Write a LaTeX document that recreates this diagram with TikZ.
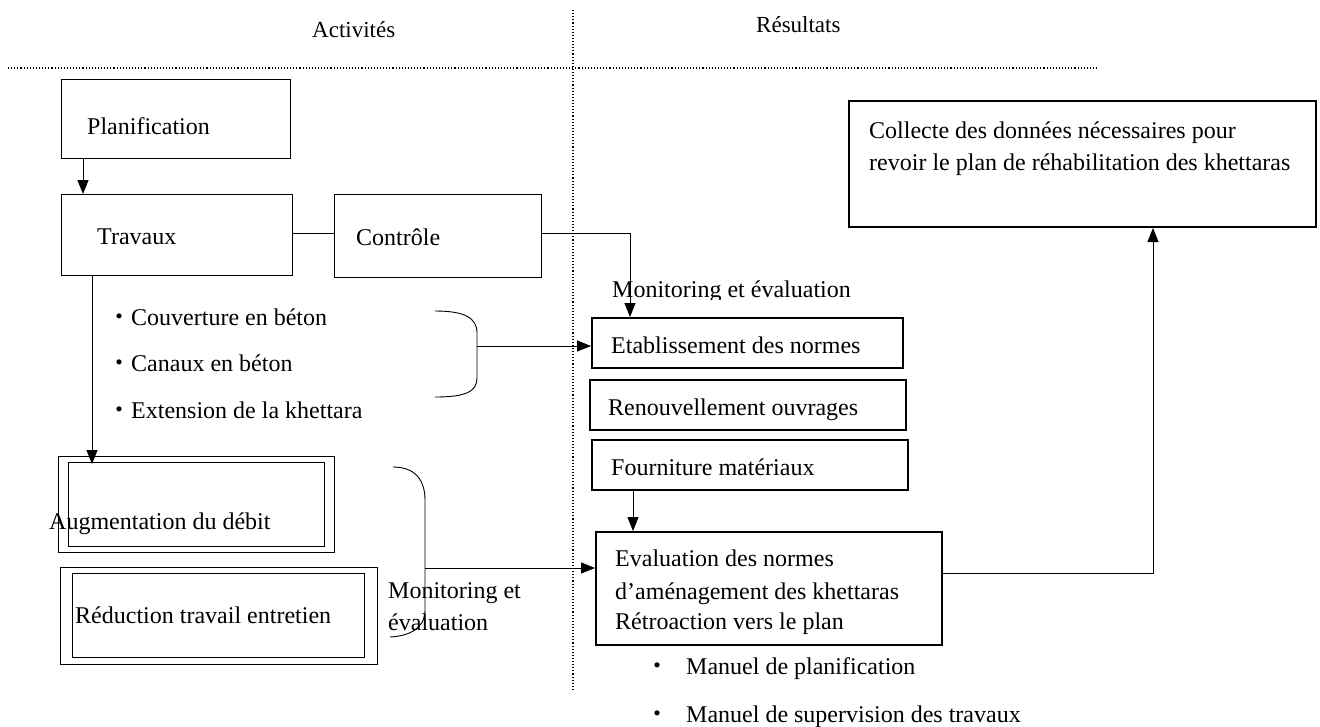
\documentclass[tikz,border=0pt]{standalone}
\usepackage{fontspec}
\setmainfont{Liberation Serif}
\newfontfamily\cjkdot{Noto Sans CJK JP}
\usetikzlibrary{arrows.meta}
\newcommand{\kdot}{{\cjkdot ・}}
\begin{document}
\begin{tikzpicture}[x=1pt,y=-1pt,
  box/.style={draw, line width=0.9pt, rectangle, inner sep=0pt, anchor=north west},
  boldbox/.style={box, line width=1.7pt},
  txt/.style={anchor=base west, inner sep=0pt, font=\fontsize{24}{29}\selectfont},
  head/.style={anchor=base west, inner sep=0pt, font=\fontsize{23}{27}\selectfont},
  link/.style={line width=0.9pt},
  arr/.style={link, -{Triangle[length=14pt,width=11pt]}},
  sepline/.style={line width=1.1pt, dotted}]
\useasboundingbox[fill=white] (0,0) rectangle (1320,726);

% column headings and separators
\node[head] (hact) at (312,37) {Activités};
\node[head] (hres) at (756,32) {Résultats};
\coordinate (hl) at (8,68);
\coordinate (hr) at (1098,68);
\coordinate (vt) at (573,10);
\coordinate (vb) at (573,690);
\draw[sepline] (hl) -- (hr);
\draw[sepline] (vt) -- (vb);

% activity boxes
\node[box, minimum width=229pt, minimum height=79pt] (plan) at (61,79) {};
\node[txt] (tplan) at (87,134) {Planification};
\node[box, minimum width=231pt, minimum height=81pt] (trav) at (61,194) {};
\node[txt] (ttrav) at (97,244) {Travaux};
\node[box, minimum width=207pt, minimum height=83pt] (ctrl) at (334,194) {};
\node[txt] (tctrl) at (356,245) {Contrôle};

% double-framed outcome boxes
\node[box, minimum width=276pt, minimum height=96pt] (aug) at (58,456) {};
\node[box, minimum width=256pt, minimum height=84pt] (augi) at (68,462) {};
\node[txt] (taug) at (49,529) {Augmentation du débit};
\node[box, minimum width=317pt, minimum height=97pt] (red) at (60,567) {};
\node[box, minimum width=292pt, minimum height=84pt] (redi) at (72,573) {};
\node[txt] (tred) at (75,623) {Réduction travail entretien};

% works list
\node[txt] (b1) at (107,325) {\kdot Couverture en béton};
\node[txt] (b2) at (107,371) {\kdot Canaux en béton};
\node[txt] (b3) at (107,418) {\kdot Extension de la khettara};

% result boxes
\node[boldbox, minimum width=311pt, minimum height=50pt] (etab) at (591,317) {};
\node[txt] (tetab) at (611,353) {Etablissement des normes};
\node[boldbox, minimum width=316pt, minimum height=50pt] (ren) at (589,379) {};
\node[txt] (tren) at (608,415) {Renouvellement ouvrages};
\node[boldbox, minimum width=316pt, minimum height=50pt] (four) at (591,439) {};
\node[txt] (tfour) at (611,475) {Fourniture matériaux};
\node[boldbox, minimum width=346pt, minimum height=113pt] (eval) at (595,531) {};
\node[txt] (tev1) at (615,566) {Evaluation des normes};
\node[txt] (tev2) at (615,599) {d’aménagement des khettaras};
\node[txt] (tev3) at (615,629) {Rétroaction vers le plan};
\node[boldbox, line width=2pt, minimum width=467pt, minimum height=126pt] (coll) at (848,100) {};
\node[txt] (tco1) at (869,138) {Collecte des données nécessaires pour};
\node[txt] (tco2) at (869,170) {revoir le plan de réhabilitation des khettaras};

% manuals
\node[txt] (m1) at (645,674) {\kdot\hspace{17pt}Manuel de planification};
\node[txt] (m2) at (645,722) {\kdot\hspace{17pt}Manuel de supervision des travaux};

% monitoring labels
\begin{scope}
  \clip (590,270) rectangle (900,299);
  \node[txt] (mon1) at (612,297) {Monitoring et évaluation};
\end{scope}
\node[txt] (mon2) at (388,598) {Monitoring et};
\node[txt] (mon3) at (388,630) {évaluation};

% connectors
\draw[arr] ([xshift=22pt]plan.south west) -- ([xshift=22pt]trav.north west);
\coordinate (tc) at (0,233);
\draw[link] (trav.east |- tc) -- (ctrl.west |- tc);
\coordinate (cm) at (630,233);
\draw[arr] (ctrl.east |- cm) -- (cm) -- (cm |- etab.north);
\coordinate (ta) at (92,0);
\draw[arr] (ta |- trav.south) -- ([yshift=-8pt]ta |- aug.north);

% braces grouping the works and the outcomes
\coordinate (k1t) at (435,311);
\coordinate (k1b) at (435,397);
\coordinate (k1m) at (477,346);
\draw[link] (k1t) .. controls (465,311) and (477,318) .. (477,333)
  -- (477,378) .. controls (477,392) and (465,397) .. (k1b);
\draw[arr] (k1m) -- (etab.west |- k1m);
\coordinate (k2t) at (393,467);
\coordinate (k2b) at (390,637);
\coordinate (k2m) at (425,568);
\draw[link] (k2t) .. controls (415,467) and (425,480) .. (425,500)
  -- (425,610) .. controls (425,628) and (410,636) .. (k2b);
\draw[arr] (k2m) -- (eval.west |- k2m);

% supplies to evaluation, evaluation back to data collection
\coordinate (fa) at (633,0);
\draw[arr] (fa |- four.south) -- (fa |- eval.north);
\coordinate (fb) at (1153,573);
\draw[arr] (eval.east |- fb) -- (fb) -- (fb |- coll.south);
\end{tikzpicture}
\end{document}
